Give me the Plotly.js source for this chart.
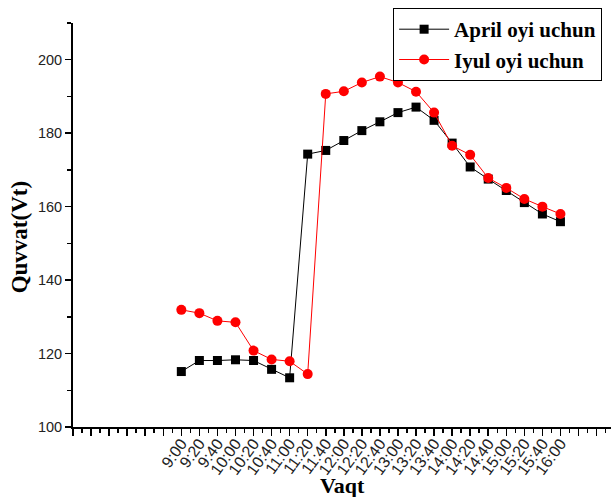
<!DOCTYPE html>
<html><head><meta charset="utf-8">
<script src="https://cdn.plot.ly/plotly-3.0.1.min.js"></script>
<style>html,body{margin:0;padding:0;background:#fff}</style>
</head><body>
<div id="chart" style="width:611px;height:497px"></div>
<script>
const timeLabels = ["9:00","9:20","9:40","10:00","10:20","10:40","11:00","11:20","11:40","12:00","12:20","12:40","13:00","13:20","13:40","14:00","14:20","14:40","15:00","15:20","15:40","16:00"];
const aprilValues = [115.1,118.1,118.1,118.3,118.1,115.7,113.4,174.3,175.3,178.0,180.7,183.1,185.6,187.1,183.5,177.3,170.8,167.5,164.4,161.1,158.0,155.9];
const iyulValues = [131.9,131.0,128.9,128.5,120.8,118.4,117.9,114.4,190.7,191.4,193.8,195.4,193.8,191.3,185.6,176.6,174.1,167.8,165.1,162.1,160.0,158.0];
const seriesNames = ["April oyi uchun","Iyul oyi uchun"];
const xTitle = "Vaqt", yTitle = "Quvvat(Vt)";

const idx = timeLabels.map((_, i) => i);
const tickVals = [], tickText = [];
for (let v = -6; v <= 23; v++) { tickVals.push(v); tickText.push(v >= 0 && v < timeLabels.length ? timeLabels[v] : ""); }

const traces = [
  {x: idx, y: aprilValues, name: seriesNames[0], type: 'scatter', mode: 'lines+markers',
   line: {color: '#000', width: 1}, marker: {symbol: 'square', size: 9, color: '#000'}},
  {x: idx, y: iyulValues, name: seriesNames[1], type: 'scatter', mode: 'lines+markers',
   line: {color: '#ff0000', width: 1}, marker: {symbol: 'circle', size: 10, color: '#ff0000'}}
];

const layout = {
  width: 611, height: 497,
  margin: {l: 73, r: 0, t: 23, b: 70},
  paper_bgcolor: '#fff', plot_bgcolor: '#fff',
  showlegend: true,
  legend: {x: 0.595, y: 1.037, xanchor: 'left', yanchor: 'top', bordercolor: '#000', borderwidth: 1,
           bgcolor: '#fff', font: {family: 'Liberation Serif', size: 21, color: '#000', weight: 'bold'},
           itemwidth: 50, tracegroupgap: 0},
  xaxis: {
    range: [-6, 23.8], tickmode: 'array', tickvals: tickVals, ticktext: tickText,
    tickangle: -54, ticks: 'outside', ticklen: 7, tickwidth: 1.5, tickcolor: '#000',
    ticklabelstandoff: -8,
    minor: {tickmode: 'linear', tick0: 0.5, dtick: 1, ticks: 'outside', ticklen: 4, tickwidth: 1.5, tickcolor: '#000', showgrid: false},
    showline: true, linecolor: '#000', linewidth: 2, showgrid: false, zeroline: false,
    tickfont: {family: 'Liberation Sans', size: 16, color: '#222'}
  },
  yaxis: {
    range: [100, 210], tickmode: 'linear', tick0: 100, dtick: 20,
    ticks: 'outside', ticklen: 6, tickwidth: 1.5, tickcolor: '#000',
    minor: {tickmode: 'linear', tick0: 110, dtick: 20, ticks: 'outside', ticklen: 4, tickwidth: 1.5, tickcolor: '#000', showgrid: false},
    showline: true, linecolor: '#000', linewidth: 2, showgrid: false, zeroline: false,
    tickfont: {family: 'Liberation Sans', size: 14.5, color: '#222'}
  },
  annotations: [
    {text: yTitle, xref: 'paper', yref: 'paper', x: -0.1, y: 0.47, xanchor: 'center', yanchor: 'middle',
     textangle: -90, showarrow: false, font: {family: 'Liberation Serif', size: 23, color: '#000', weight: 'bold'}},
    {text: xTitle, xref: 'paper', yref: 'paper', x: 0.5, y: -0.145, xanchor: 'center', yanchor: 'middle',
     showarrow: false, font: {family: 'Liberation Serif', size: 22, color: '#000', weight: 'bold'}}
  ]
};
Plotly.newPlot('chart', traces, layout, {displayModeBar: false, staticPlot: true});
</script>
</body></html>
